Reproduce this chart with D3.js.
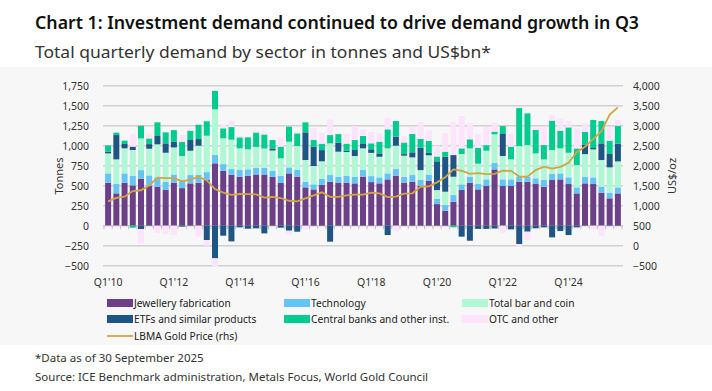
<!DOCTYPE html>
<html><head><meta charset="utf-8">
<script src="https://cdn.jsdelivr.net/npm/d3@7"></script>
<style>body{margin:0;background:#fff;} text{font-family:"Noto Sans",sans-serif;}</style>
</head><body><svg id="c" width="712" height="391"></svg>
<script>
// ---------- data ----------
const quarters = [];
for (let y = 2010; y <= 2025; y++) for (let q = 1; q <= 4; q++) quarters.push("Q" + q + "'" + String(y).slice(2));
quarters.length = 63; // Q1'10 .. Q3'25

const jewellery = [537,404,537,504,587,496,487,446,537,470,529,537,575,780,687,637,613,625,640,640,610,538,654,613,479,454,510,550,538,538,529,613,545,529,579,625,538,550,500,560,270,188,300,446,538,454,496,704,496,496,550,550,521,488,571,579,521,404,529,521,413,342,404];
const technology = [117,117,117,117,108,133,117,104,104,97,104,100,95,105,83,71,83,80,85,85,75,83,75,83,71,63,75,83,75,83,83,83,75,75,75,83,75,83,75,80,65,70,83,71,75,71,83,83,83,83,65,62,71,83,75,75,83,75,83,83,75,71,75];
const barCoin = [250,308,313,325,396,333,413,362,337,304,304,363,455,570,322,367,271,250,260,240,255,221,321,300,271,229,220,396,312,300,259,271,290,258,313,292,262,221,120,240,110,167,229,379,354,250,358,355,292,250,380,396,312,258,300,313,308,279,283,350,333,316,325];
const etfs = [21,304,54,42,-42,58,104,117,71,-12,134,83,-179,-408,-125,-196,-21,-38,-33,-96,25,-25,-63,-75,346,242,140,-200,112,15,75,62,45,42,-117,113,20,63,280,30,360,437,271,-137,-188,-40,-40,-35,283,-46,-229,-75,-33,-21,-146,-67,-117,-21,121,17,208,167,221];
const centralBanks = [79,30,42,-25,158,71,171,138,146,179,117,179,180,230,125,158,137,150,180,175,105,146,188,158,125,83,80,104,108,90,125,92,75,146,237,195,145,229,110,150,60,63,-20,71,113,200,70,33,92,158,475,396,292,179,367,221,317,208,158,350,279,167,225];
const otc = [-8,-10,0,154,-179,50,-88,-104,-117,83,29,-137,-71,-104,50,71,20,0,25,40,0,116,-46,21,-46,146,140,196,0,120,175,83,140,104,146,-67,70,92,210,130,135,230,417,404,200,170,230,113,-88,159,-33,-104,33,229,67,154,79,250,104,-46,-125,166,75];
const goldPrice = [1109,1197,1227,1367,1386,1506,1702,1688,1691,1609,1652,1722,1632,1415,1326,1272,1293,1288,1282,1201,1218,1192,1124,1106,1183,1260,1335,1222,1219,1257,1278,1275,1329,1306,1213,1226,1304,1310,1472,1481,1583,1711,1909,1874,1794,1816,1790,1795,1877,1871,1729,1726,1890,1976,1929,1971,2070,2338,2474,2663,2860,3280,3457];

const seriesNames = ["Jewellery fabrication","Technology","Total bar and coin","ETFs and similar products","Central banks and other inst.","OTC and other"];
const seriesValues = [jewellery, technology, barCoin, etfs, centralBanks, otc];
const seriesColors = ["#6c4088","#62c5f6","#aff7d5","#1f5584","#00cc8f","#fde3fb"];
const lineName = "LBMA Gold Price (rhs)";
const lineColor = "#d5a443";
const leftTicks = [-500,-250,0,250,500,750,1000,1250,1500,1750];
const rightTicks = [-500,0,500,1000,1500,2000,2500,3000,3500,4000];

// ---------- chart ----------
const svg = d3.select("#c");
const keys = seriesNames;
const rows = quarters.map((q, i) => {
  const o = {q};
  keys.forEach((k, j) => o[k] = seriesValues[j][i]);
  return o;
});

// background panel
svg.append("rect").attr("x",0).attr("y",67).attr("width",712).attr("height",278).attr("fill","#f7f7f7");

svg.append("text").attr("x",35).attr("y",29).attr("font-size",18).attr("font-weight",600).attr("fill","#111")
  .attr("textLength",604).attr("lengthAdjust","spacingAndGlyphs")
  .text("Chart 1: Investment demand continued to drive demand growth in Q3");
svg.append("text").attr("x",35).attr("y",58).attr("font-size",17).attr("fill","#333")
  .attr("textLength",456).attr("lengthAdjust","spacingAndGlyphs")
  .text("Total quarterly demand by sector in tonnes and US$bn*");

const x = d3.scaleBand().domain(quarters).range([104,622]).paddingInner(0.27).paddingOuter(0.135);
const yL = d3.scaleLinear().domain([-500,1750]).range([265.7,85.7]);
const yR = d3.scaleLinear().domain([-500,4000]).range([265.7,85.7]);

// gridlines
svg.append("g").selectAll("line").data(leftTicks).join("line")
  .attr("x1",103).attr("x2",623).attr("y1",d=>yL(d)).attr("y2",d=>yL(d))
  .attr("stroke","#d0d0d0").attr("stroke-width",1.4);

// zero-line ticks at category boundaries
const step = x.step();
const bounds = quarters.map(q => x(q) - (step - x.bandwidth())/2).concat([x(quarters[62]) + x.bandwidth() + (step - x.bandwidth())/2]);
svg.append("g").selectAll("line").data(bounds).join("line")
  .attr("x1",d=>d).attr("x2",d=>d).attr("y1",yL(0)).attr("y2",yL(0)+3.5)
  .attr("stroke","#bdbdbd").attr("stroke-width",1);

const stack = d3.stack().keys(keys).offset(d3.stackOffsetDiverging);
const stacked = stack(rows);
svg.append("g").selectAll("g").data(stacked).join("g")
  .attr("fill",(d,i)=>seriesColors[i])
  .selectAll("rect").data(d=>d).join("rect")
  .attr("x",d=>x(d.data.q)).attr("width",x.bandwidth())
  .attr("y",d=>yL(Math.max(d[0],d[1]))).attr("height",d=>Math.abs(yL(d[0])-yL(d[1])));

// gold price line
const line = d3.line().x((d,i)=>x(quarters[i])+x.bandwidth()/2).y(d=>yR(d)).curve(d3.curveLinear);
svg.append("path").datum(goldPrice).attr("d",line).attr("fill","none").attr("stroke",lineColor).attr("stroke-width",1.8);

// axes
const axL = d3.axisLeft(yL).tickValues(leftTicks).tickFormat(d3.format(",")).tickSize(0).tickPadding(0);
const gL = svg.append("g").attr("transform","translate(89,0)").call(axL);
const axR = d3.axisRight(yR).tickValues(rightTicks).tickFormat(d3.format(",")).tickSize(0).tickPadding(0);
const gR = svg.append("g").attr("transform","translate(633,0)").call(axR);
const axB = d3.axisBottom(x).tickValues(quarters.filter((q,i)=>i%8===0)).tickSize(0).tickPadding(0);
const gB = svg.append("g").attr("transform","translate(0,279)").call(axB);
[gL,gR,gB].forEach(g=>{
  g.select(".domain").remove();
  g.selectAll("text").attr("font-size",10.5).attr("fill","#333").attr("font-family","Noto Sans, sans-serif");
});
gB.selectAll("text").attr("dy","0.71em");

svg.append("text").attr("transform","translate(63,176) rotate(-90)").attr("text-anchor","middle")
  .attr("font-size",11).attr("fill","#333").text("Tonnes");
svg.append("text").attr("transform","translate(676,176) rotate(-90)").attr("text-anchor","middle")
  .attr("font-size",11).attr("fill","#333").text("US$/oz");

// legend
const legCols = [107,284,462], legRows = [303,319];
seriesNames.forEach((n,i)=>{
  const cx = legCols[i%3], cy = legRows[Math.floor(i/3)];
  svg.append("rect").attr("x",cx).attr("y",cy-4).attr("width",26).attr("height",8).attr("fill",seriesColors[i]);
  svg.append("text").attr("x",cx+27).attr("y",cy).attr("dy","0.35em").attr("font-size",10.2).attr("fill","#222").text(n);
});
svg.append("line").attr("x1",107).attr("x2",133).attr("y1",336).attr("y2",336).attr("stroke",lineColor).attr("stroke-width",1.8);
svg.append("text").attr("x",134).attr("y",336).attr("dy","0.35em").attr("font-size",10.2).attr("fill","#222").text(lineName);

// notes
svg.append("text").attr("x",35).attr("y",362).attr("font-size",11.5).attr("fill","#333").text("*Data as of 30 September 2025");
svg.append("text").attr("x",35).attr("y",381).attr("font-size",11.5).attr("fill","#333").text("Source: ICE Benchmark administration, Metals Focus, World Gold Council");
</script></body></html>
